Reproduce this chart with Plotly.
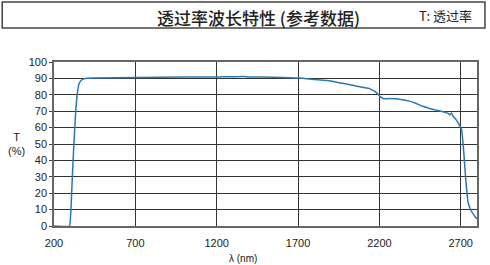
import plotly.graph_objects as go

wavelength = [200, 295, 300, 305, 315, 325, 335, 345, 355, 370, 390, 450, 700, 1000, 1200, 1300, 1360, 1400, 1550, 1700,
              1800, 1900, 1950, 2000, 2073, 2134, 2153, 2175, 2195, 2205, 2226, 2260, 2297, 2340, 2379, 2420, 2460,
              2500, 2542, 2580, 2603, 2625, 2634, 2644, 2652, 2670, 2685, 2705, 2719, 2731, 2746, 2766, 2787, 2800]
transmit = [0, 0, 3, 12, 35, 55, 72, 82, 87, 89, 90, 90.3, 90.6, 90.8, 90.9, 91, 91.2, 90.9, 90.7, 90.2,
            89.3, 88.4, 87.4, 86.6, 85, 84, 83, 82, 80, 78.9, 77.6, 77.7, 77.6, 77.0, 76.3, 75.0, 73.2,
            72.0, 70.8, 70.0, 69.3, 68.5, 67.8, 68.9, 67.2, 65.0, 62.8, 58.8, 44.6, 28.3, 14, 9, 5.9, 4.3]

x_ticks = [200, 700, 1200, 1700, 2200, 2700]
y_ticks = list(range(0, 101, 10))

title_text = "透过率波长特性 (参考数据)"
legend_text = "T: 透过率"
x_title = "λ (nm)"
y_title = "T<br>(%)"

fig = go.Figure()
fig.add_trace(go.Scatter(x=wavelength, y=transmit, mode="lines",
                         line=dict(color="#2b78b0", width=1.5, shape="spline", smoothing=0.4),
                         hoverinfo="skip", showlegend=False))

W, H = 490, 265
L, R, T, B = 54, 11, 62, 39
pw, ph = W - L - R, H - T - B

def px(x):
    return (x - L) / pw

def py(y):
    return (H - B - y) / ph

axis_font = dict(family="Liberation Sans, Arial, sans-serif", size=11, color="#222")

fig.update_layout(
    width=W, height=H,
    margin=dict(l=L, r=R, t=T, b=B),
    paper_bgcolor="white", plot_bgcolor="white",
    showlegend=False,
    xaxis=dict(range=[200, 2800], tickvals=x_ticks, showgrid=True, gridcolor="#333", gridwidth=1,
               showline=True, linecolor="#666", linewidth=1.5, mirror=True, zeroline=False,
               ticks="", ticklabelstandoff=6, tickfont=axis_font, fixedrange=True),
    yaxis=dict(range=[0, 100], tickvals=y_ticks, showgrid=True, gridcolor="#333", gridwidth=1,
               showline=True, linecolor="#666", linewidth=1.5, mirror=True, zeroline=False,
               ticks="outside", ticklen=3, tickcolor="#444", tickfont=axis_font, fixedrange=True),
    shapes=[dict(type="rect", xref="paper", yref="paper",
                 x0=px(2), x1=px(487), y0=py(28), y1=py(2),
                 line=dict(color="#444", width=1.5))],
    annotations=[
        dict(text=title_text, xref="paper", yref="paper", x=px(259), y=py(17), showarrow=False,
             xanchor="center", yanchor="middle",
             font=dict(family="Noto Sans CJK SC", size=17, color="#222", weight=500)),
        dict(text=legend_text, xref="paper", yref="paper", x=px(447), y=py(16), showarrow=False,
             xanchor="center", yanchor="middle",
             font=dict(family="Noto Sans CJK SC", size=13, color="#222", weight="normal")),
        dict(text=y_title, xref="paper", yref="paper", x=px(16), y=py(144), showarrow=False,
             xanchor="center", yanchor="middle",
             font=dict(family="Liberation Sans, Arial, sans-serif", size=11, color="#222")),
        dict(text=x_title, xref="paper", yref="paper", x=px(244), y=py(258), showarrow=False,
             xanchor="center", yanchor="middle",
             font=dict(family="Liberation Sans, Arial, sans-serif", size=10, color="#222")),
    ],
)

fig.write_html("out.html")
